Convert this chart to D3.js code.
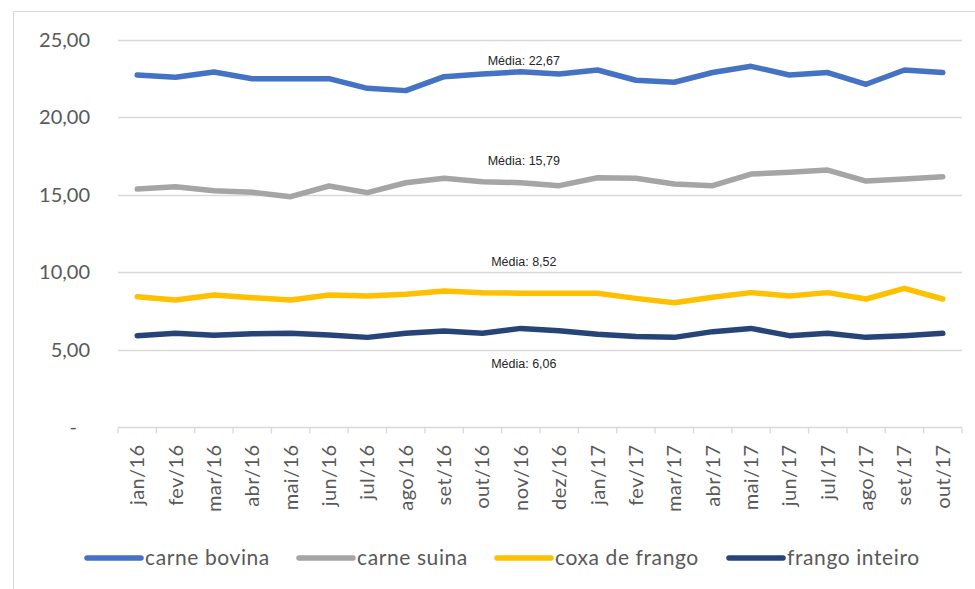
<!DOCTYPE html>
<html>
<head>
<meta charset="utf-8">
<script src="https://cdn.jsdelivr.net/npm/d3@7"></script>
<style>
  html, body { margin: 0; padding: 0; background: #fff; }
  svg { display: block; font-family: Lato, "Open Sans", sans-serif; }
</style>
</head>
<body>
<svg id="chart" width="975" height="589"></svg>
<script>
// Monthly prices (R$/kg) by product, jan/16 – out/17
const months = ["jan/16","fev/16","mar/16","abr/16","mai/16","jun/16","jul/16","ago/16","set/16","out/16","nov/16","dez/16",
                "jan/17","fev/17","mar/17","abr/17","mai/17","jun/17","jul/17","ago/17","set/17","out/17"];
const carneBovina = [22.74,22.60,22.93,22.50,22.50,22.50,21.88,21.73,22.63,22.80,22.95,22.80,23.06,22.40,22.27,22.90,23.30,22.74,22.90,22.14,23.06,22.90];
const carneSuina  = [15.37,15.52,15.26,15.16,14.88,15.57,15.14,15.78,16.07,15.85,15.78,15.59,16.10,16.07,15.70,15.59,16.34,16.45,16.60,15.89,16.02,16.17];
const coxaFrango  = [8.42,8.20,8.53,8.35,8.20,8.53,8.46,8.57,8.79,8.68,8.64,8.64,8.64,8.31,8.03,8.38,8.68,8.46,8.68,8.27,8.96,8.27];
const frangoInteiro = [5.90,6.05,5.92,6.03,6.05,5.94,5.79,6.05,6.20,6.05,6.37,6.22,5.99,5.84,5.79,6.16,6.37,5.90,6.05,5.79,5.90,6.05];
const seriesNames = ["carne bovina","carne suina","coxa de frango","frango inteiro"];
const averages = [22.67, 15.79, 8.52, 6.06];
const yTicks = [0, 5, 10, 15, 20, 25];

const colors = ["#4472C4", "#A5A5A5", "#FFC000", "#264478"];
const seriesValues = [carneBovina, carneSuina, coxaFrango, frangoInteiro];
// vertical offset (px) of each average label relative to its mean level
const avgLabelOffset = [-15, -22, -33, 30];

const svg = d3.select("#chart");
const W = 975, H = 589;
const margin = {left: 118, right: 13, top: 40, bottom: 162};

// outer frame
svg.append("rect")
  .attr("x", 13.5).attr("y", 11.5)
  .attr("width", W + 10).attr("height", H + 10)
  .attr("fill", "none").attr("stroke", "#d9d9d9").attr("stroke-width", 1);

const x = d3.scaleBand().domain(months).range([margin.left, W - margin.right]).padding(0);
const y = d3.scaleLinear().domain([0, 25]).range([H - margin.bottom, margin.top]);

// gridlines
svg.append("g")
  .selectAll("line")
  .data(yTicks.filter(d => d > 0))
  .join("line")
  .attr("x1", margin.left).attr("x2", W - margin.right)
  .attr("y1", d => Math.round(y(d)) + 0.5).attr("y2", d => Math.round(y(d)) + 0.5)
  .attr("stroke", "#d9d9d9").attr("stroke-width", 1.3);

// y axis labels
const fmt = v => v === 0 ? "-" : d3.format(".2f")(v).replace(".", ",");
const yAxis = d3.axisLeft(y).tickValues(yTicks).tickFormat(fmt).tickSize(0).tickPadding(28);
const gy = svg.append("g").attr("transform", `translate(${margin.left},0)`).call(yAxis);
gy.select(".domain").remove();
gy.selectAll("text").attr("font-size", 20).attr("fill", "#595959")
  .attr("font-family", "Lato, 'Open Sans', sans-serif");
gy.selectAll(".tick").filter(d => d === 0).select("text").attr("dx", -13);

// x axis with ticks between categories
const base = Math.round(y(0)) + 0.5;
const gx = svg.append("g");
gx.append("line")
  .attr("x1", margin.left).attr("x2", W - margin.right)
  .attr("y1", base).attr("y2", base)
  .attr("stroke", "#d9d9d9").attr("stroke-width", 1.3);
gx.selectAll("line.tick")
  .data(months.concat(["__end"]))
  .join("line")
  .attr("class", "tick")
  .attr("x1", (d, i) => i < months.length ? x(d) : x(months[months.length - 1]) + x.bandwidth())
  .attr("x2", (d, i) => i < months.length ? x(d) : x(months[months.length - 1]) + x.bandwidth())
  .attr("y1", base).attr("y2", base + 6)
  .attr("stroke", "#d9d9d9").attr("stroke-width", 1.3);
gx.selectAll("text")
  .data(months)
  .join("text")
  .attr("transform", d => `translate(${x(d) + x.bandwidth() / 2},${base + 17}) rotate(-90)`)
  .attr("text-anchor", "end")
  .attr("dy", "0.35em")
  .attr("font-size", 20)
  .attr("letter-spacing", 0.4)
  .attr("fill", "#595959")
  .text(d => d);

// series lines
const line = d3.line()
  .x((d, i) => x(months[i]) + x.bandwidth() / 2)
  .y(d => y(d));

svg.append("g")
  .selectAll("path")
  .data(seriesValues)
  .join("path")
  .attr("d", d => line(d))
  .attr("fill", "none")
  .attr("stroke", (d, i) => colors[i])
  .attr("stroke-width", 5.5)
  .attr("stroke-linejoin", "round")
  .attr("stroke-linecap", "round");

// average labels
svg.append("g")
  .selectAll("text")
  .data(averages)
  .join("text")
  .attr("x", x("nov/16") + x.bandwidth() / 2 + 3)
  .attr("y", (d, i) => y(d) + avgLabelOffset[i])
  .attr("dy", "0.35em")
  .attr("text-anchor", "middle")
  .attr("font-family", "'Liberation Sans', Arial, sans-serif")
  .attr("font-size", 12.5)
  .attr("fill", "#262626")
  .text(d => "Média: " + d3.format(".2f")(d).replace(".", ","));

// legend
const legendItems = [
  {name: seriesNames[0], color: colors[0], x: 85},
  {name: seriesNames[1], color: colors[1], x: 297},
  {name: seriesNames[2], color: colors[2], x: 495},
  {name: seriesNames[3], color: colors[3], x: 727}
];
const lg = svg.append("g").attr("transform", "translate(0,558)");
const li = lg.selectAll("g").data(legendItems).join("g")
  .attr("transform", d => `translate(${d.x},0)`);
li.append("line")
  .attr("x1", 2).attr("x2", 56).attr("y1", 0).attr("y2", 0)
  .attr("stroke", d => d.color).attr("stroke-width", 5.5).attr("stroke-linecap", "round");
li.append("text")
  .attr("x", 60).attr("dy", "0.35em")
  .attr("font-size", 21).attr("letter-spacing", 0.6).attr("fill", "#595959")
  .text(d => d.name);
</script>
</body>
</html>
